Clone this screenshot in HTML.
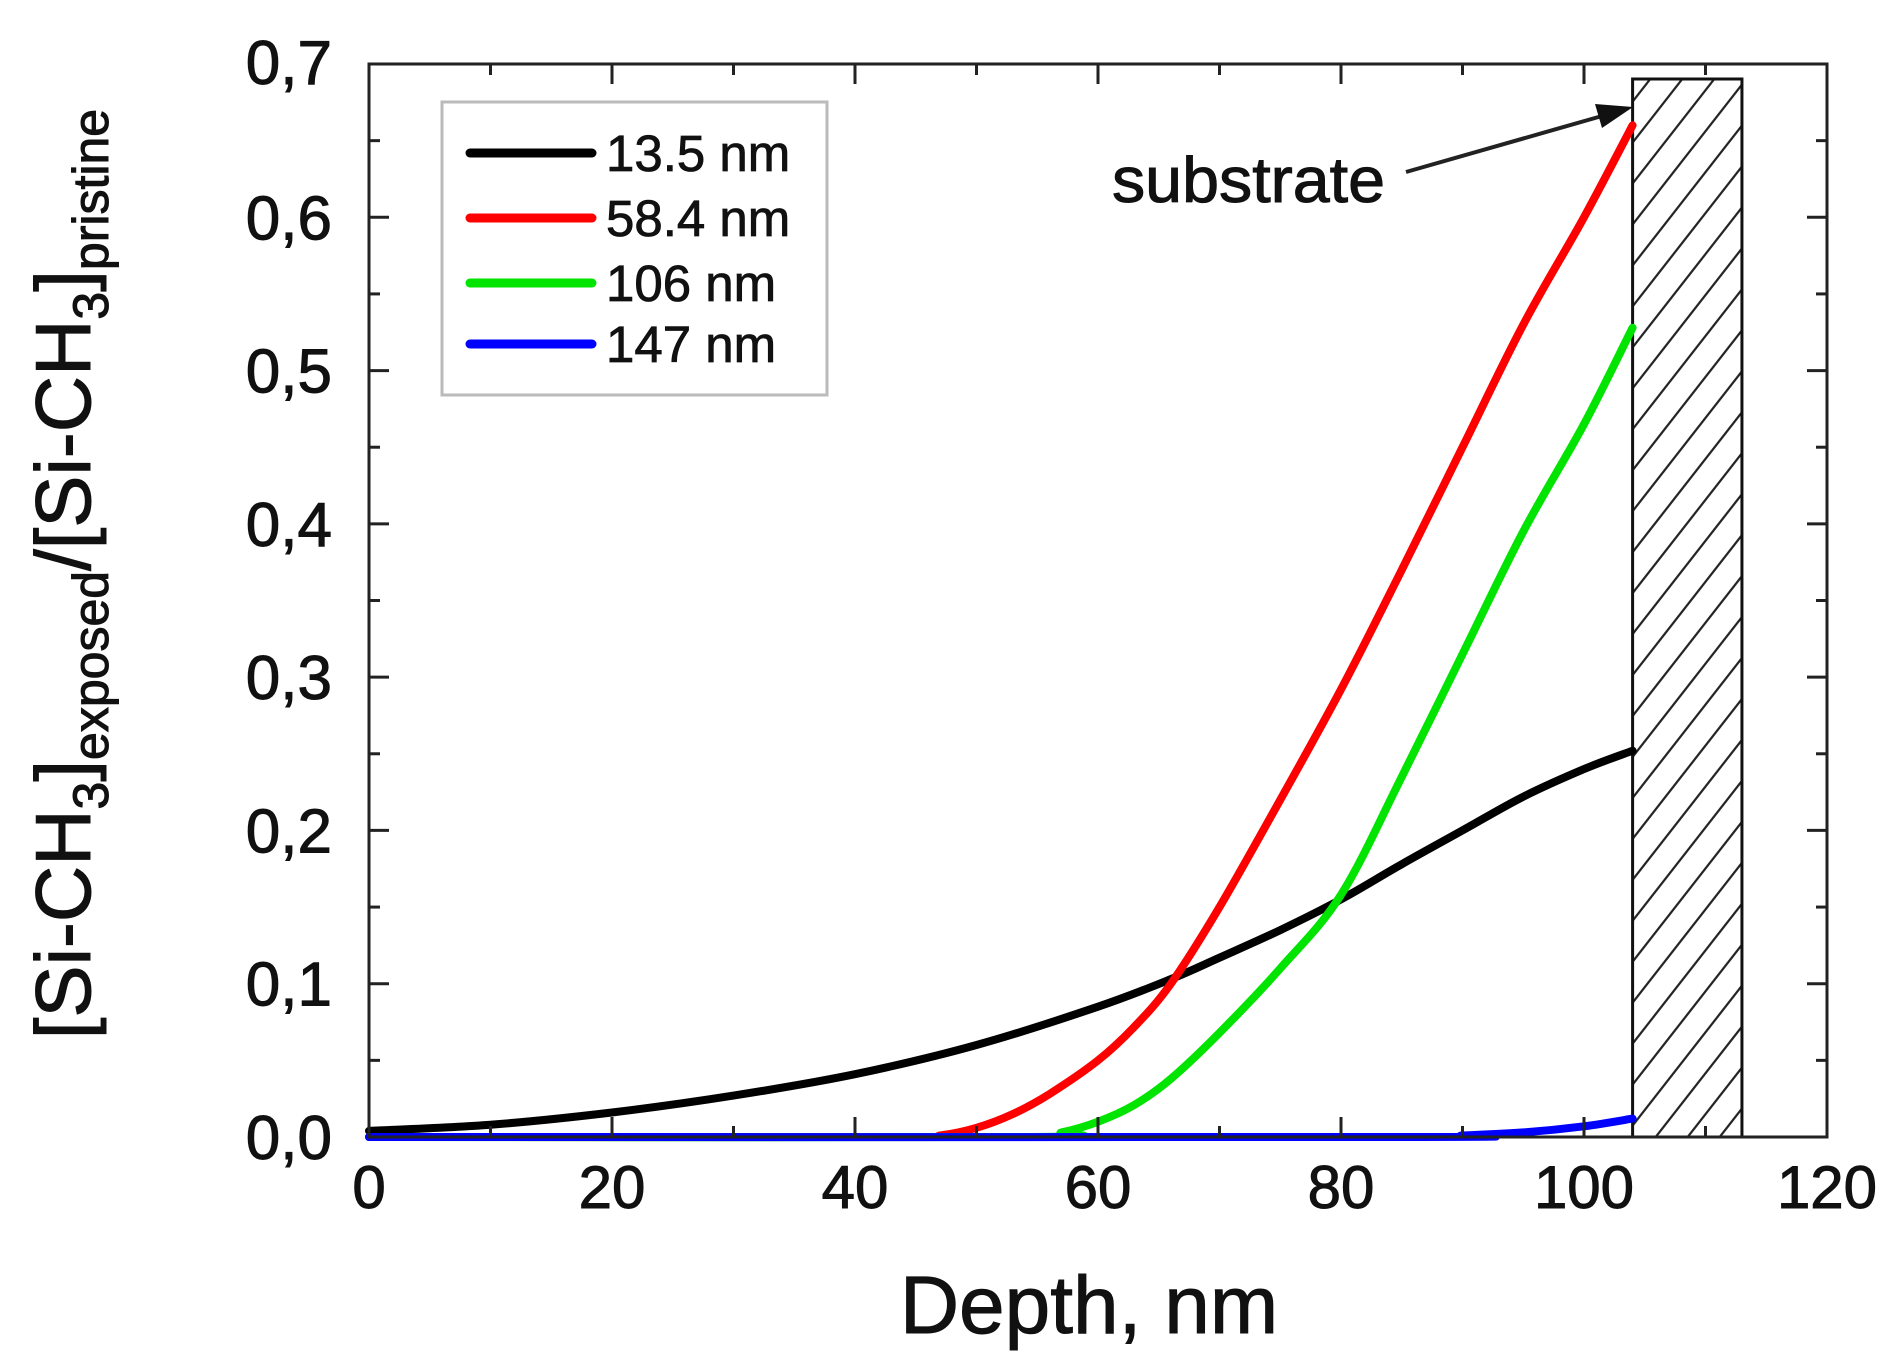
<!DOCTYPE html>
<html><head><meta charset="utf-8"><style>
html,body{margin:0;padding:0;background:#fff}
svg{display:block;font-family:"Liberation Sans",Arial,sans-serif}
</style></head><body>
<svg id="chart" width="1897" height="1368" viewBox="0 0 1897 1368">
<defs>
<pattern id="hatch" patternUnits="userSpaceOnUse" width="32" height="40" patternTransform="skewX(-38)">
<line x1="16" y1="0" x2="16" y2="40" stroke="#222" stroke-width="2.8"/>
</pattern>
</defs>
<g id="plot"></g>
</svg>
<script>
const xTicks=[0,20,40,60,80,100,120];
const yTicks=[0,0.1,0.2,0.3,0.4,0.5,0.6,0.7];
const yTickLabels=["0,0","0,1","0,2","0,3","0,4","0,5","0,6","0,7"];
const seriesNames=["13.5 nm","58.4 nm","106 nm","147 nm"];
const seriesColors=["#000","#ff0000","#00e400","#0000ff"];
const blackX=[0,10,20,30,40,50,60,66,70,75,80,85,90,95,100,104];
const blackY=[0.004,0.008,0.016,0.027,0.041,0.06,0.085,0.103,0.117,0.135,0.155,0.178,0.2,0.222,0.24,0.252];
const redX=[0,44,47,50,53,56,60,63,66,70,75,80,85,90,95,100,104];
const redY=[0,0,0.001,0.006,0.015,0.028,0.05,0.072,0.1,0.15,0.22,0.292,0.37,0.45,0.53,0.6,0.66];
const greenX=[0,54,57,60,63,66,70,75,80,85,90,95,100,104];
const greenY=[0,0,0.003,0.01,0.021,0.038,0.068,0.11,0.158,0.235,0.315,0.395,0.465,0.528];
const blueX=[0,85,90,95,100,104];
const blueY=[0,0,0.001,0.003,0.007,0.012];
const substrateRange=[104,113];

const L=369,R=1827,T=64,B=1137;
const xs=v=>L+(v/120)*(R-L);
const ys=v=>B-(v/0.7)*(B-T);
const NS="http://www.w3.org/2000/svg";
const g=document.getElementById('plot');
function mk(tag,attrs,parent){const e=document.createElementNS(NS,tag);for(const k in attrs)e.setAttribute(k,attrs[k]);(parent||g).appendChild(e);return e;}
function smooth(px,py){
  let d='M'+px[0].toFixed(1)+','+py[0].toFixed(1);
  for(let i=0;i<px.length-1;i++){
    const i0=Math.max(0,i-1),i3=Math.min(px.length-1,i+2);
    const c1x=px[i]+(px[i+1]-px[i0])/6,c1y=py[i]+(py[i+1]-py[i0])/6;
    const c2x=px[i+1]-(px[i3]-px[i])/6,c2y=py[i+1]-(py[i3]-py[i])/6;
    d+=' C'+c1x.toFixed(1)+','+c1y.toFixed(1)+' '+c2x.toFixed(1)+','+c2y.toFixed(1)+' '+px[i+1].toFixed(1)+','+py[i+1].toFixed(1);
  }
  return d;
}

const sub=mk('rect',{x:xs(substrateRange[0]),y:79,width:xs(substrateRange[1])-xs(substrateRange[0]),height:B-79,fill:'url(#hatch)',stroke:'#111','stroke-width':3});



const sets=[[blackX,blackY],[redX,redY],[greenX,greenY],[blueX,blueY]];
sets.forEach((s,i)=>{
  const px=s[0].map(xs),py=s[1].map(ys);
  const p=mk('path',{d:smooth(px,py),fill:'none',stroke:seriesColors[i],'stroke-width':8,'stroke-linejoin':'round','stroke-linecap':'round'});
  
  
});

const fr=mk('rect',{x:L,y:T,width:R-L,height:B-T,fill:'none',stroke:'#222','stroke-width':3});



for(let i=0;i<xTicks.length;i++){
  const x=xs(xTicks[i]);
  mk('line',{x1:x,y1:B,x2:x,y2:B-20,stroke:'#222','stroke-width':3});
  mk('line',{x1:x,y1:T,x2:x,y2:T+20,stroke:'#222','stroke-width':3});
  if(i<xTicks.length-1){const xm=xs(xTicks[i]+10);
    mk('line',{x1:xm,y1:B,x2:xm,y2:B-11,stroke:'#222','stroke-width':3});
    mk('line',{x1:xm,y1:T,x2:xm,y2:T+11,stroke:'#222','stroke-width':3});}
  const t=mk('text',{x:x,y:1208,'font-size':60,'text-anchor':'middle',fill:'#111',stroke:'#111','stroke-width':1});
  t.textContent=xTicks[i];
  
  
}
for(let i=0;i<yTicks.length;i++){
  const y=ys(yTicks[i]);
  mk('line',{x1:L,y1:y,x2:L+20,y2:y,stroke:'#222','stroke-width':3});
  mk('line',{x1:R,y1:y,x2:R-20,y2:y,stroke:'#222','stroke-width':3});
  if(i<yTicks.length-1){const ym=ys(yTicks[i]+0.05);
    mk('line',{x1:L,y1:ym,x2:L+11,y2:ym,stroke:'#222','stroke-width':3});
    mk('line',{x1:R,y1:ym,x2:R-11,y2:ym,stroke:'#222','stroke-width':3});}
  const t=mk('text',{x:332,y:(i==7?y-2:y)+22,'font-size':62,'text-anchor':'end',fill:'#111',stroke:'#111','stroke-width':1});
  t.textContent=yTickLabels[i];
  
  
}

const lg=mk('g',{});


mk('rect',{x:442,y:102,width:385,height:293,fill:'#fff',stroke:'#bbb','stroke-width':3},lg);
const rows=[153,218,283,344];
seriesNames.forEach((n,i)=>{
  const e=mk('g',{},lg);
  
  
  mk('line',{x1:470,y1:rows[i],x2:592,y2:rows[i],stroke:seriesColors[i],'stroke-width':9,'stroke-linecap':'round'},e);
  const t=mk('text',{x:606,y:rows[i]+18,'font-size':51,fill:'#111',stroke:'#111','stroke-width':0.8},e);
  t.textContent=n;
});

const an=mk('text',{x:1112,y:202,'font-size':64,fill:'#111',stroke:'#111','stroke-width':1,textLength:273,lengthAdjust:'spacingAndGlyphs'});
an.textContent='substrate';


const ar=mk('line',{x1:1406,y1:172,x2:1602,y2:116,stroke:'#222','stroke-width':4});


mk('polygon',{points:'1633,107 1595,104 1602,128',fill:'#111'});

const xt=mk('text',{x:1089,y:1333,'font-size':82,'text-anchor':'middle',fill:'#111',stroke:'#111','stroke-width':1});
xt.textContent='Depth, nm';


</script>
<script>
(function(){
const NS="http://www.w3.org/2000/svg";
const svg=document.getElementById('chart');
const t=document.createElementNS(NS,'text');


t.setAttribute('transform','translate(90,574) rotate(-90)');
t.setAttribute('text-anchor','middle');
t.setAttribute('font-size','78');
t.setAttribute('fill','#111');
t.setAttribute('stroke','#111');
t.setAttribute('stroke-width','1');
t.innerHTML='[Si-CH<tspan font-size="50" dy="18">3</tspan><tspan dy="-18">]</tspan><tspan font-size="50" dy="18">exposed</tspan><tspan dy="-18">/[Si-CH</tspan><tspan font-size="50" dy="18">3</tspan><tspan dy="-18">]</tspan><tspan font-size="50" dy="18">pristine</tspan>';
svg.appendChild(t);
})();
</script>
</body></html>
